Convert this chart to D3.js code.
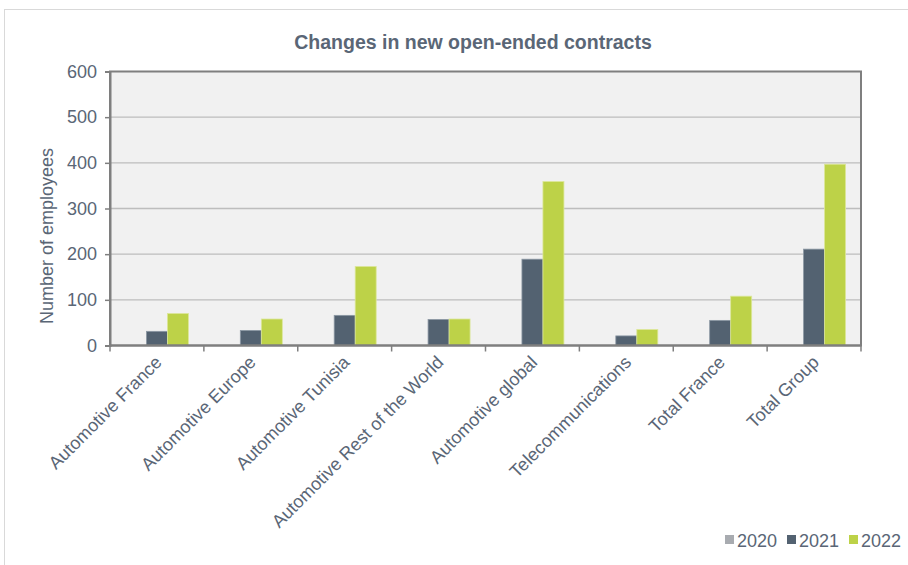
<!DOCTYPE html>
<html>
<head>
<meta charset="utf-8">
<script src="https://cdn.jsdelivr.net/npm/d3@7"></script>
<style>
  html, body { margin: 0; padding: 0; background: #fff; }
  svg { display: block; font-family: "Liberation Sans", Arial, sans-serif; }
</style>
</head>
<body>
<svg id="chart" width="908" height="565"></svg>
<script>
// New open-ended contracts by scope and year
const categories = [
  "Automotive France",
  "Automotive Europe",
  "Automotive Tunisia",
  "Automotive Rest of the World",
  "Automotive global",
  "Telecommunications",
  "Total France",
  "Total Group"
];
const years = ["2020", "2021", "2022"];
const values2020 = [0, 0, 0, 0, 0, 0, 0, 0];
const values2021 = [31, 33, 66, 57, 189, 21, 55, 211];
const values2022 = [70, 58, 173, 58, 359, 35, 108, 397];
const yTicks = [0, 100, 200, 300, 400, 500, 600];

const series = [values2020, values2021, values2022];
const colors = ["#A8ABB0", "#536271", "#BDD248"];
const strokes = ["#C9CBCF", "#8C98A4", "#DCE79A"];
const textColor = "#5A6676";

const svg = d3.select("#chart");

// outer frame
svg.append("rect")
  .attr("x", 4.5).attr("y", 9.5)
  .attr("width", 910).attr("height", 560)
  .attr("fill", "none").attr("stroke", "#D9D9D9");

const m = { left: 110, right: 861, top: 71.5, bottom: 345.5 };

const x = d3.scaleBand().domain(categories).range([m.left, m.right]);
// three bars per category, group ~63 px wide centred in the band
const inner = d3.scaleBand().domain(years)
  .range([(x.bandwidth() - 63) / 2, (x.bandwidth() + 63) / 2]);
const y = d3.scaleLinear().domain([0, 600]).range([m.bottom, m.top]);

// plot background
svg.append("rect")
  .attr("x", m.left).attr("y", m.top)
  .attr("width", m.right - m.left).attr("height", m.bottom - m.top)
  .attr("fill", "#F1F1F1");

// gridlines
svg.append("g")
  .selectAll("line")
  .data(yTicks.filter(d => d > 0 && d < 600))
  .join("line")
  .attr("x1", m.left).attr("x2", m.right)
  .attr("y1", d => y(d)).attr("y2", d => y(d))
  .attr("stroke", "#BDBDBD").attr("stroke-width", 1.3);

// bars
const groups = svg.append("g")
  .selectAll("g")
  .data(categories)
  .join("g")
  .attr("transform", d => `translate(${x(d)},0)`);

groups.selectAll("rect")
  .data((c, i) => years.map((yr, k) => ({ yr, k, v: series[k][i] })).filter(d => d.v > 0))
  .join("rect")
  .attr("x", d => inner(d.yr))
  .attr("width", inner.bandwidth())
  .attr("y", d => y(d.v))
  .attr("height", d => y(0) - y(d.v))
  .attr("fill", d => colors[d.k])
  .attr("stroke", d => strokes[d.k])
  .attr("stroke-width", 0.8);

// plot frame
svg.append("rect")
  .attr("x", m.left).attr("y", m.top)
  .attr("width", m.right - m.left).attr("height", m.bottom - m.top)
  .attr("fill", "none").attr("stroke", "#7F7F7F").attr("stroke-width", 2);

// y axis
const yAxis = svg.append("g")
  .attr("transform", `translate(${m.left},0)`)
  .call(d3.axisLeft(y).tickValues(yTicks).tickSize(5).tickPadding(8));
yAxis.select(".domain").attr("stroke", "#7F7F7F").attr("stroke-width", 2);
yAxis.selectAll(".tick line").attr("stroke", "#7F7F7F").attr("stroke-width", 1.5);
yAxis.selectAll(".tick text")
  .attr("fill", textColor).style("font-size", "18px");

// x axis with tick marks at category boundaries
const xAxis = svg.append("g").attr("transform", `translate(0,${m.bottom})`);
xAxis.append("line")
  .attr("x1", m.left).attr("x2", m.right)
  .attr("stroke", "#7F7F7F").attr("stroke-width", 2);
const bounds = categories.map(c => x(c)).concat([m.right]);
xAxis.selectAll("line.tk")
  .data(bounds)
  .join("line")
  .attr("class", "tk")
  .attr("x1", d => d).attr("x2", d => d)
  .attr("y1", 0).attr("y2", 6)
  .attr("stroke", "#7F7F7F").attr("stroke-width", 1.5);

xAxis.selectAll("text")
  .data(categories)
  .join("text")
  .attr("transform", d => `translate(${x(d) + x.bandwidth() / 2 + 6},${18}) rotate(-45)`)
  .attr("text-anchor", "end")
  .attr("fill", textColor)
  .style("font-size", "18px")
  .text(d => d);

// y axis title
svg.append("text")
  .attr("transform", "translate(53,236) rotate(-90)")
  .attr("text-anchor", "middle")
  .attr("fill", textColor)
  .style("font-size", "18px")
  .text("Number of employees");

// chart title
svg.append("text")
  .attr("x", 473).attr("y", 49)
  .attr("text-anchor", "middle")
  .attr("fill", textColor)
  .style("font-size", "19.5px")
  .style("font-weight", "bold")
  .text("Changes in new open-ended contracts");

// legend
const legendX = [725, 787, 849];
const legend = svg.append("g")
  .selectAll("g")
  .data(years)
  .join("g")
  .attr("transform", (d, i) => `translate(${legendX[i]},540)`);
legend.append("rect")
  .attr("x", 0).attr("y", -5).attr("width", 9).attr("height", 9)
  .attr("fill", (d, i) => colors[i]);
legend.append("text")
  .attr("x", 12).attr("y", 6.5)
  .attr("fill", textColor)
  .style("font-size", "18px")
  .text(d => d);
</script>
</body>
</html>
